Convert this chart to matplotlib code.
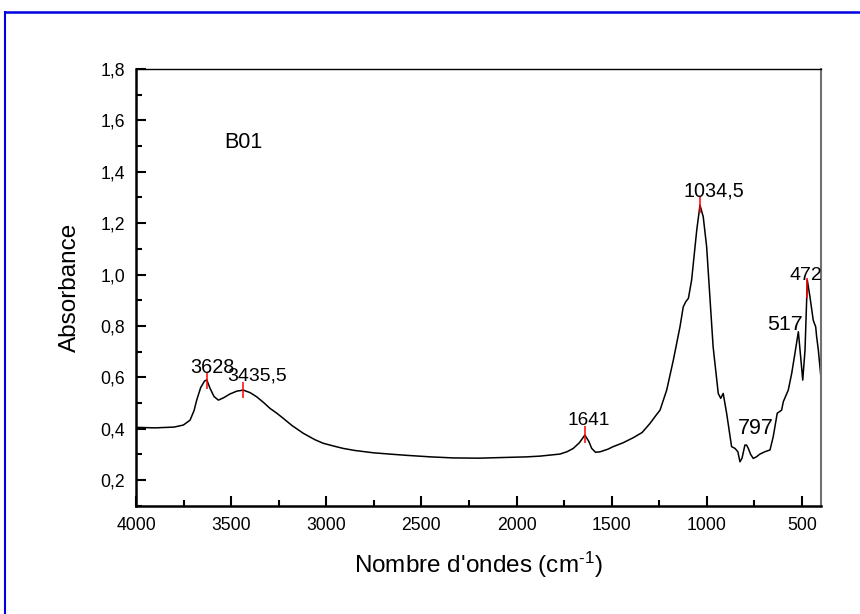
import matplotlib
matplotlib.use("Agg")
import matplotlib.pyplot as plt
from matplotlib.ticker import MultipleLocator, FuncFormatter
from matplotlib.lines import Line2D

plt.rcParams['font.family'] = ['Liberation Sans', 'DejaVu Sans']
plt.rcParams['mathtext.fontset'] = 'custom'
plt.rcParams['mathtext.rm'] = 'Liberation Sans'
plt.rcParams['mathtext.it'] = 'Liberation Sans'

# IR spectrum of sample B01
wavenumber = [4000, 3900, 3800, 3751, 3716, 3695, 3681, 3660, 3640, 3628, 3611, 3590,
              3567, 3540, 3506, 3470, 3436, 3400, 3366, 3330, 3296, 3260, 3226, 3180,
              3121, 3060, 3016, 2960, 2911, 2850, 2753, 2650, 2577, 2450, 2333, 2200,
              2052, 1950, 1877, 1772, 1735, 1702, 1670, 1641, 1620, 1605, 1585, 1560,
              1520, 1492, 1440, 1386, 1340, 1299, 1264, 1246, 1211, 1176, 1141, 1124,
              1110, 1097, 1080, 1053, 1036, 1019, 1001, 984, 967, 940, 927, 914,
              896, 870, 852, 837, 826, 815, 800, 791, 782, 770, 756, 740,
              721, 695, 668, 651, 630, 607, 598, 572, 554, 537, 519, 507,
              496, 484, 472, 458, 441, 435, 428, 423, 414, 400]
absorbance = [0.405, 0.403, 0.406, 0.414, 0.433, 0.47, 0.511, 0.56, 0.585, 0.59, 0.557, 0.525,
              0.511, 0.52, 0.535, 0.546, 0.55, 0.54, 0.524, 0.502, 0.479, 0.46, 0.44, 0.412,
              0.382, 0.357, 0.343, 0.332, 0.323, 0.315, 0.306, 0.300, 0.296, 0.29, 0.286, 0.285,
              0.288, 0.29, 0.293, 0.301, 0.31, 0.323, 0.345, 0.375, 0.35, 0.323, 0.308, 0.31,
              0.32, 0.33, 0.345, 0.365, 0.385, 0.42, 0.455, 0.472, 0.55, 0.667, 0.797, 0.874,
              0.895, 0.907, 0.978, 1.173, 1.27, 1.225, 1.108, 0.913, 0.719, 0.537, 0.518, 0.537,
              0.46, 0.33, 0.323, 0.31, 0.271, 0.285, 0.336, 0.336, 0.323, 0.3, 0.284, 0.29,
              0.301, 0.31, 0.317, 0.369, 0.46, 0.472, 0.505, 0.55, 0.615, 0.693, 0.777, 0.68,
              0.589, 0.706, 0.978, 0.913, 0.823, 0.81, 0.797, 0.758, 0.706, 0.596]

# peak labels: text, text x, text baseline y, font size
peak_text = ["3628", "3435,5", "1641", "1034,5", "472", "517", "797"]
peak_tx = [3601, 3366, 1619, 964, 481, 587, 745]
peak_ty = [0.617, 0.589, 0.414, 1.305, 0.978, 0.784, 0.378]
peak_fs = [14.3, 14, 13.7, 14.2, 14, 15.4, 15.5]

# red marks on the peaks
mark_x = [3628, 3435.5, 1641, 1034.5, 472]
mark_lo = [0.553, 0.518, 0.343, 1.238, 0.907]
mark_hi = [0.621, 0.583, 0.410, 1.304, 0.985]

fig = plt.figure(figsize=(8.6, 6.14), dpi=100)
ax = fig.add_axes([136/860, 1 - 505.7/614, 685/860, 436.7/614])

ax.plot(wavenumber, absorbance, color='black', lw=1.1)
ax.vlines(mark_x, mark_lo, mark_hi, color='red', lw=1.1)
for t, x, y, fs in zip(peak_text, peak_tx, peak_ty, peak_fs):
    ax.text(x, y, t, ha='center', va='baseline', fontsize=fs)

# sample name, placed in figure pixels (from the top-left)
fig.text(224/860, 1 - 142.7/614, "B01", fontsize=15.5, ha='left', va='center')

ax.set_xlim(4000, 400)
ax.set_ylim(0.1, 1.8)
ax.xaxis.set_major_locator(MultipleLocator(500))
ax.xaxis.set_minor_locator(MultipleLocator(250))
ax.yaxis.set_major_locator(MultipleLocator(0.2))
ax.yaxis.set_minor_locator(MultipleLocator(0.1))
ax.yaxis.set_major_formatter(FuncFormatter(lambda v, p: f"{v:.1f}".replace('.', ',')))
ax.xaxis.set_major_formatter(FuncFormatter(lambda v, p: f"{v:.0f}"))
ax.tick_params(which='both', direction='in', top=False, right=False, width=1.5,
               labelsize=12.7, pad=8)
ax.tick_params(which='major', length=7.5)
ax.tick_params(which='minor', length=4.5)

for s in ['left', 'bottom']:
    ax.spines[s].set_linewidth(1.8)
ax.spines['top'].set_linewidth(1.0)
ax.spines['right'].set_linewidth(1.5)
ax.spines['right'].set_color('#707070')

ax.set_xlabel("Nombre d'ondes (cm$^{\u2010 1}$)", fontsize=17.5)
ax.set_ylabel("Absorbance", fontsize=17.5)
ax.xaxis.label.set_va('center')
ax.yaxis.label.set_va('center')
ax.xaxis.set_label_coords(0.5, (505.7 - 565) / 436.7)
ax.yaxis.set_label_coords((70 - 136) / 685, 0.5)

# blue frame on top and left
fig.add_artist(Line2D([5/860, 5/860], [0, 1 - 11.5/614], transform=fig.transFigure,
                      color='#0000e0', lw=1.5))
fig.add_artist(Line2D([5/860, 1], [1 - 11.5/614, 1 - 11.5/614], transform=fig.transFigure,
                      color='#0000e0', lw=1.8))

fig.savefig("out.png", dpi=100)
